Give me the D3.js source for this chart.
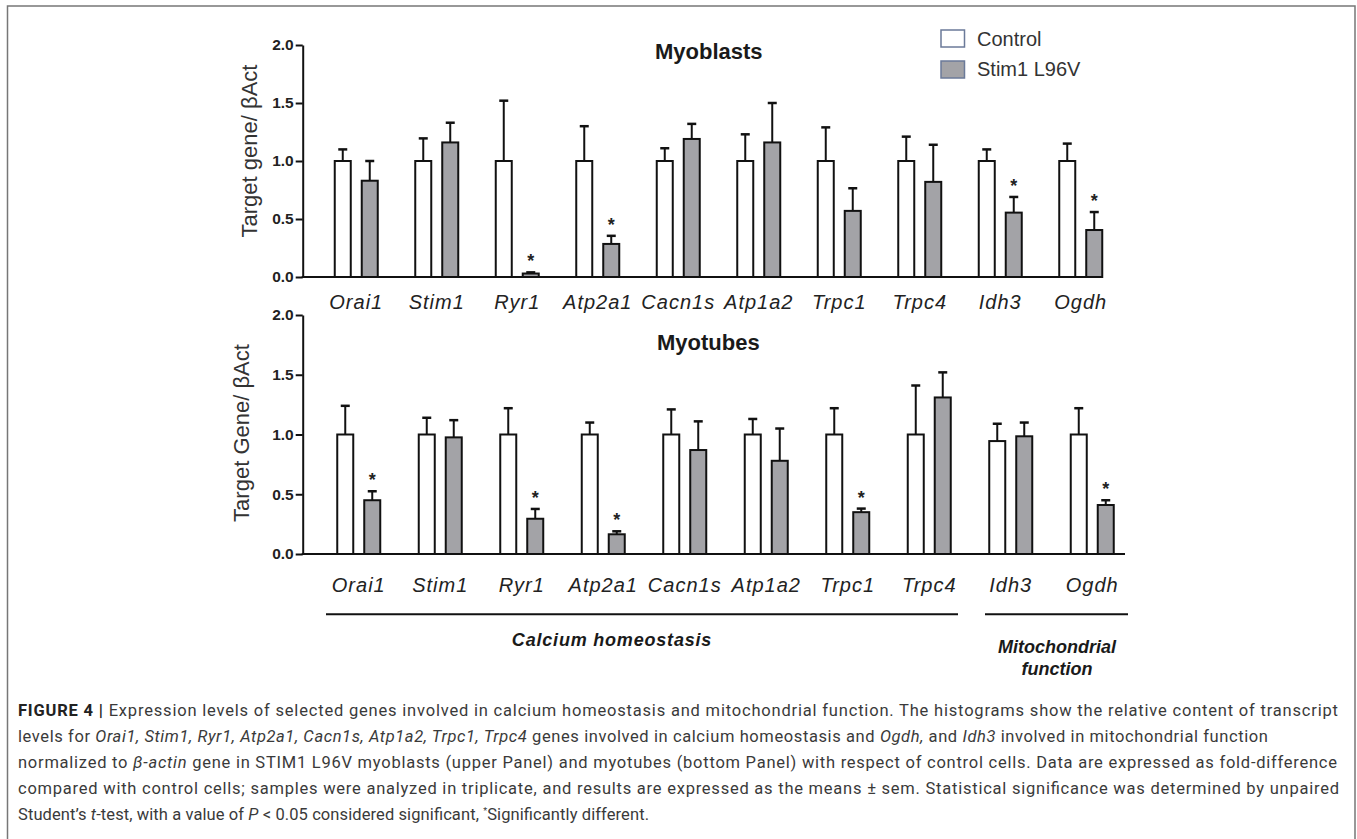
<!DOCTYPE html>
<html>
<head>
<meta charset="utf-8">
<script src="https://cdn.jsdelivr.net/npm/d3@7"></script>
<style>
  body { margin: 0; background: #fff; }
  svg { display: block; font-family: Arial, "Liberation Sans", sans-serif; }
</style>
</head>
<body>
<div id="fig"></div>
<script>
// gene order on the x axis
const genes = ["Orai1", "Stim1", "Ryr1", "Atp2a1", "Cacn1s", "Atp1a2", "Trpc1", "Trpc4", "Idh3", "Ogdh"];
const yTicks = [0, 0.5, 1.0, 1.5, 2.0];

// myoblasts (upper panel): means and sem
const blastCtrl = [1, 1, 1, 1, 1, 1, 1, 1, 1, 1];
const blastCtrlSem = [0.10, 0.195, 0.52, 0.30, 0.11, 0.23, 0.29, 0.21, 0.10, 0.15];
const blastStim = [0.83, 1.16, 0.03, 0.285, 1.19, 1.16, 0.57, 0.82, 0.555, 0.405];
const blastStimSem = [0.17, 0.17, 0.01, 0.07, 0.13, 0.34, 0.195, 0.32, 0.135, 0.155];
const blastSig = [false, false, true, true, false, false, false, false, true, true];

// myotubes (bottom panel)
const tubeCtrl = [1, 1, 1, 1, 1, 1, 1, 1, 0.945, 1];
const tubeCtrlSem = [0.24, 0.14, 0.22, 0.10, 0.21, 0.13, 0.22, 0.41, 0.145, 0.22];
const tubeStim = [0.45, 0.976, 0.295, 0.165, 0.87, 0.78, 0.35, 1.31, 0.985, 0.41];
const tubeStimSem = [0.075, 0.144, 0.082, 0.025, 0.24, 0.27, 0.03, 0.21, 0.115, 0.04];
const tubeSig = [true, false, true, true, false, false, true, false, false, true];

const seriesNames = ["Control", "Stim1 L96V"];
const groupNames = ["Calcium homeostasis", ["Mitochondrial", "function"]];

const W = 1357, H = 839;
const fillStim = "#a3a3a7";

const svg = d3.select("#fig").append("svg")
    .attr("width", W)
    .attr("height", H);

// outer frame (open at the bottom)
svg.append("path")
    .attr("d", `M7.5,${H} V6 H1355 V${H}`)
    .attr("fill", "none")
    .attr("stroke", "#777")
    .attr("stroke-width", 1.5);

// draw one panel
function drawPanel(opt) {
    const y = d3.scaleLinear([0, 2], [opt.y0, opt.y1]);
    const x = d3.scaleBand(genes, opt.band);
    const inner = d3.scaleBand(["ctrl", "stim"], [-21.5, 21.5]).paddingInner(0.407);

    const rows = genes.map((g, i) => ({
        gene: g,
        bars: [
            {key: "ctrl", v: opt.ctrl[i], sem: opt.ctrlSem[i], sig: false},
            {key: "stim", v: opt.stim[i], sem: opt.stimSem[i], sig: opt.sig[i]}
        ]
    }));

    const g = svg.append("g");

    // bars
    const grp = g.selectAll("g.gene")
        .data(rows)
        .enter()
        .append("g")
        .attr("transform", d => `translate(${x(d.gene) + x.bandwidth() / 2},0)`);

    const bar = grp.selectAll("g.bar")
        .data(d => d.bars)
        .enter()
        .append("g");

    // error bars first, so the bar outline stays on top
    bar.append("line")
        .attr("x1", d => inner(d.key) + inner.bandwidth() / 2)
        .attr("x2", d => inner(d.key) + inner.bandwidth() / 2)
        .attr("y1", d => y(d.v))
        .attr("y2", d => y(d.v + d.sem))
        .attr("stroke", "#111")
        .attr("stroke-width", 2);
    bar.append("line")
        .attr("x1", d => inner(d.key) + inner.bandwidth() / 2 - 4.5)
        .attr("x2", d => inner(d.key) + inner.bandwidth() / 2 + 4.5)
        .attr("y1", d => y(d.v + d.sem))
        .attr("y2", d => y(d.v + d.sem))
        .attr("stroke", "#111")
        .attr("stroke-width", 2.5);

    bar.append("rect")
        .attr("x", d => inner(d.key))
        .attr("width", inner.bandwidth())
        .attr("y", d => y(d.v))
        .attr("height", d => y(0) - y(d.v))
        .attr("fill", d => d.key === "ctrl" ? "#fff" : fillStim)
        .attr("stroke", "#111")
        .attr("stroke-width", 2);

    // significance stars
    bar.filter(d => d.sig)
        .append("text")
        .attr("x", d => inner(d.key) + inner.bandwidth() / 2)
        .attr("y", d => y(d.v + d.sem) - 15 + 10)
        .attr("text-anchor", "middle")
        .style("font-size", "18px")
        .style("font-weight", "bold")
        .style("fill", "#222")
        .text("*");

    // y axis
    const yAxis = d3.axisLeft(y)
        .tickValues(yTicks)
        .tickFormat(d3.format(".1f"))
        .tickSize(7)
        .tickSizeOuter(0)
        .tickPadding(2);
    const ya = g.append("g")
        .attr("transform", "translate(302.7,0)")
        .call(yAxis);
    ya.select(".domain").attr("stroke", "#111").attr("stroke-width", 2);
    ya.selectAll(".tick line").attr("stroke", "#111").attr("stroke-width", 2);
    ya.selectAll("text")
        .style("font-size", "15.5px")
        .style("font-weight", "bold")
        .style("fill", "#222");

    // x axis line
    g.append("line")
        .attr("x1", 301.7)
        .attr("x2", opt.axisEnd)
        .attr("y1", y(0))
        .attr("y2", y(0))
        .attr("stroke", "#111")
        .attr("stroke-width", 2);

    // gene labels
    const xAxis = d3.axisBottom(x).tickSize(0);
    const xa = g.append("g")
        .attr("transform", `translate(0,${y(0)})`)
        .call(xAxis);
    xa.select(".domain").remove();
    xa.selectAll("text")
        .attr("y", opt.labelY - y(0))
        .attr("dy", null)
        .style("font-size", "20px")
        .style("font-style", "italic")
        .style("letter-spacing", "1px")
        .style("fill", "#222");

    // panel title
    g.append("text")
        .attr("x", opt.titleX)
        .attr("y", opt.titleY)
        .style("font-size", "22px")
        .style("font-weight", "bold")
        .style("fill", "#1a1a1a")
        .text(opt.title);

    // y axis title
    g.append("text")
        .attr("transform", `translate(${opt.ytX},${opt.ytY}) rotate(-90)`)
        .attr("text-anchor", "middle")
        .style("font-size", "22px")
        .style("fill", "#333")
        .text(opt.yTitle);
}

drawPanel({
    y0: 277, y1: 45, band: [316, 1121], axisEnd: 1103,
    ctrl: blastCtrl, ctrlSem: blastCtrlSem, stim: blastStim, stimSem: blastStimSem, sig: blastSig,
    labelY: 309, title: "Myoblasts", titleX: 655, titleY: 59,
    yTitle: "Target gene/ \u03b2Act", ytX: 257, ytY: 151
});

drawPanel({
    y0: 554, y1: 315, band: [318, 1133], axisEnd: 1125,
    ctrl: tubeCtrl, ctrlSem: tubeCtrlSem, stim: tubeStim, stimSem: tubeStimSem, sig: tubeSig,
    labelY: 591.5, title: "Myotubes", titleX: 657, titleY: 350,
    yTitle: "Target Gene/ \u03b2Act", ytX: 249, ytY: 433
});

// legend
const legend = svg.append("g");
seriesNames.forEach((s, i) => {
    legend.append("rect")
        .attr("x", 941)
        .attr("y", 30 + i * 31)
        .attr("width", 23.5)
        .attr("height", 17)
        .attr("fill", i === 0 ? "#fff" : fillStim)
        .attr("stroke", "#6b7a99")
        .attr("stroke-width", 1.5);
    legend.append("text")
        .attr("x", 977)
        .attr("y", 45.5 + i * 30)
        .style("font-size", "20px")
        .style("fill", "#333")
        .text(s);
});

// group brackets under the bottom panel
svg.append("line")
    .attr("x1", 326).attr("x2", 958)
    .attr("y1", 614.3).attr("y2", 614.3)
    .attr("stroke", "#111").attr("stroke-width", 2);
svg.append("line")
    .attr("x1", 985).attr("x2", 1128)
    .attr("y1", 614.3).attr("y2", 614.3)
    .attr("stroke", "#111").attr("stroke-width", 2);

svg.append("text")
    .attr("x", 612).attr("y", 645.5)
    .attr("text-anchor", "middle")
    .style("font-size", "18px")
    .style("font-weight", "bold")
    .style("font-style", "italic")
    .style("letter-spacing", "0.8px")
    .style("fill", "#1a1a1a")
    .text(groupNames[0]);

svg.append("text")
    .selectAll("tspan")
    .data(groupNames[1])
    .enter()
    .append("tspan")
    .attr("x", 1057)
    .attr("y", (d, i) => 653 + i * 22)
    .attr("text-anchor", "middle")
    .style("font-size", "18px")
    .style("font-weight", "bold")
    .style("font-style", "italic")
    .style("fill", "#1a1a1a")
    .text(d => d);

// caption: each line is a list of [text, style] pieces
const captionLines = [
    [["FIGURE 4 | ", "b"], ["Expression levels of selected genes involved in calcium homeostasis and mitochondrial function. The histograms show the relative content of transcript", ""]],
    [["levels for ", ""], ["Orai1, Stim1, Ryr1, Atp2a1, Cacn1s, Atp1a2, Trpc1, Trpc4", "i"], [" genes involved in calcium homeostasis and ", ""], ["Ogdh,", "i"], [" and ", ""], ["Idh3", "i"], [" involved in mitochondrial function", ""]],
    [["normalized to ", ""], ["\u03b2-actin", "i"], [" gene in STIM1 L96V myoblasts (upper Panel) and myotubes (bottom Panel) with respect of control cells. Data are expressed as fold-difference", ""]],
    [["compared with control cells; samples were analyzed in triplicate, and results are expressed as the means \u00b1 sem. Statistical significance was determined by unpaired", ""]],
    [["Student\u2019s ", ""], ["t", "i"], ["-test, with a value of ", ""], ["P", "i"], [" < 0.05 considered significant, ", ""], ["*", "sup"], ["Significantly different.", ""]]
];
const captionEnds = [1338, 1268, 1337, 1339, 649];

captionLines.forEach((line, i) => {
    const t = svg.append("text")
        .attr("x", 18)
        .attr("y", 716 + i * 26)
        .attr("textLength", captionEnds[i] - 18)
        .attr("lengthAdjust", "spacing")
        .style("font-family", "Roboto, 'Liberation Sans', sans-serif")
        .style("font-size", "16.5px")
        .style("fill", "#3a3a3a");
    line.forEach(p => {
        const sp = t.append("tspan").text(p[0]);
        if (p[1] === "b") sp.style("font-weight", "bold").style("fill", "#222");
        if (p[1] === "i") sp.style("font-style", "italic");
        if (p[1] === "sup") sp.style("font-size", "9px").attr("dy", -6);
        if (p[1] === "" && i === 4 && p[0].startsWith("Significantly")) sp.attr("dy", 6);
    });
});
</script>
</body>
</html>
